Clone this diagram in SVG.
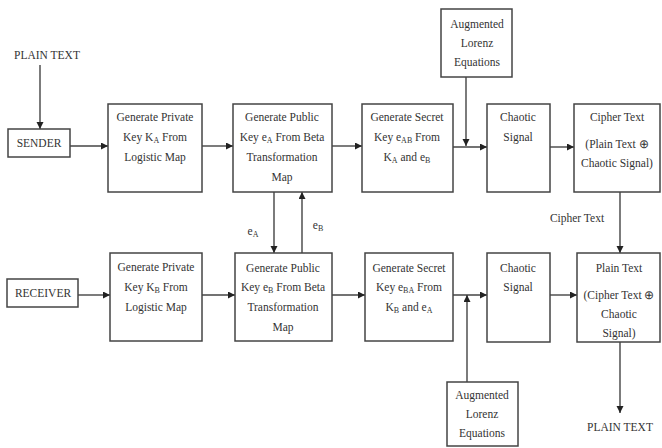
<svg xmlns="http://www.w3.org/2000/svg" width="662" height="448" viewBox="0 0 662 448">
<style>
text{font-family:"Liberation Serif","Times New Roman",serif;font-size:11.5px;fill:#333;text-anchor:middle}
.box{fill:#fff;stroke:#444;stroke-width:1.5}
.c{stroke:#444;stroke-width:1.4;fill:none}
.s{font-size:8px}
</style>
<defs>
<marker id="ar" markerUnits="userSpaceOnUse" markerWidth="8" markerHeight="8" refX="7" refY="3.5" orient="auto">
<path d="M0,0 L7,3.5 L0,7 z" fill="#222"/>
</marker>
</defs>
<rect width="662" height="448" fill="#fff"/>
<g id="connectors">
<line class="c" x1="40" y1="65" x2="40" y2="129" marker-end="url(#ar)"/>
<line class="c" x1="70" y1="146" x2="108" y2="146" marker-end="url(#ar)"/>
<line class="c" x1="202" y1="146" x2="233" y2="146" marker-end="url(#ar)"/>
<line class="c" x1="332" y1="146" x2="362" y2="146" marker-end="url(#ar)"/>
<line class="c" x1="453" y1="147" x2="487" y2="147" marker-end="url(#ar)"/>
<line class="c" x1="466" y1="77" x2="466" y2="146" marker-end="url(#ar)"/>
<line class="c" x1="550" y1="147" x2="574" y2="147" marker-end="url(#ar)"/>
<line class="c" x1="620" y1="192" x2="620" y2="253" marker-end="url(#ar)"/>
<text x="577" y="222">Cipher Text</text>
<line class="c" x1="274" y1="192" x2="274" y2="253" marker-end="url(#ar)"/>
<text x="253" y="235">e<tspan class="s" dy="2">A</tspan></text>
<line class="c" x1="302" y1="253" x2="302" y2="192" marker-end="url(#ar)"/>
<text x="318" y="229">e<tspan class="s" dy="2">B</tspan></text>
<line class="c" x1="78" y1="295" x2="110" y2="295" marker-end="url(#ar)"/>
<line class="c" x1="202" y1="295" x2="235" y2="295" marker-end="url(#ar)"/>
<line class="c" x1="332" y1="295" x2="365" y2="295" marker-end="url(#ar)"/>
<line class="c" x1="453" y1="295" x2="487" y2="295" marker-end="url(#ar)"/>
<line class="c" x1="467" y1="382" x2="467" y2="295" marker-end="url(#ar)"/>
<line class="c" x1="550" y1="295" x2="577" y2="295" marker-end="url(#ar)"/>
<line class="c" x1="620" y1="342" x2="620" y2="413" marker-end="url(#ar)"/>
</g>
<g id="plain-text-in"><text x="47" y="59">PLAIN TEXT</text></g>
<g id="sender"><rect class="box" x="8" y="129" width="62" height="28"/><text x="39" y="147">SENDER</text></g>
<g id="private-a"><rect class="box" x="108" y="104" width="94" height="88"/>
<text x="155" y="121">Generate Private</text>
<text x="155" y="141">Key K<tspan class="s" dy="2">A</tspan><tspan dy="-2"> From</tspan></text>
<text x="155" y="161">Logistic Map</text></g>
<g id="public-a"><rect class="box" x="233" y="104" width="99" height="88"/>
<text x="282" y="121">Generate Public</text>
<text x="282" y="141">Key e<tspan class="s" dy="2">A</tspan><tspan dy="-2"> From Beta</tspan></text>
<text x="282" y="161">Transformation</text>
<text x="282" y="181">Map</text></g>
<g id="secret-a"><rect class="box" x="362" y="104" width="91" height="88"/>
<text x="407" y="121">Generate Secret</text>
<text x="407" y="141">Key e<tspan class="s" dy="2">AB</tspan><tspan dy="-2"> From</tspan></text>
<text x="407" y="161">K<tspan class="s" dy="2">A</tspan><tspan dy="-2"> and e</tspan><tspan class="s" dy="2">B</tspan></text></g>
<g id="lorenz-top"><rect class="box" x="441" y="9" width="71" height="68"/>
<text x="477" y="28">Augmented</text>
<text x="477" y="47">Lorenz</text>
<text x="477" y="66">Equations</text></g>
<g id="chaotic-a"><rect class="box" x="487" y="104" width="63" height="88"/>
<text x="518" y="121">Chaotic</text>
<text x="518" y="141">Signal</text></g>
<g id="cipher"><rect class="box" x="574" y="104" width="86" height="88"/>
<text x="617" y="121">Cipher Text</text>
<text x="617" y="148">(Plain Text ⊕</text>
<text x="617" y="167">Chaotic Signal)</text></g>
<g id="receiver"><rect class="box" x="7" y="279" width="71" height="28"/><text x="43" y="297">RECEIVER</text></g>
<g id="private-b"><rect class="box" x="110" y="253" width="92" height="88"/>
<text x="156" y="271">Generate Private</text>
<text x="156" y="291">Key K<tspan class="s" dy="2">B</tspan><tspan dy="-2"> From</tspan></text>
<text x="156" y="311">Logistic Map</text></g>
<g id="public-b"><rect class="box" x="235" y="253" width="97" height="88"/>
<text x="283" y="272">Generate Public</text>
<text x="283" y="291">Key e<tspan class="s" dy="2">B</tspan><tspan dy="-2"> From Beta</tspan></text>
<text x="283" y="311">Transformation</text>
<text x="283" y="331">Map</text></g>
<g id="secret-b"><rect class="box" x="365" y="253" width="88" height="88"/>
<text x="409" y="272">Generate Secret</text>
<text x="409" y="291">Key e<tspan class="s" dy="2">BA</tspan><tspan dy="-2"> From</tspan></text>
<text x="409" y="311">K<tspan class="s" dy="2">B</tspan><tspan dy="-2"> and e</tspan><tspan class="s" dy="2">A</tspan></text></g>
<g id="chaotic-b"><rect class="box" x="487" y="253" width="63" height="89"/>
<text x="518" y="272">Chaotic</text>
<text x="518" y="291">Signal</text></g>
<g id="plain-box"><rect class="box" x="577" y="253" width="83" height="89"/>
<text x="619" y="272">Plain Text</text>
<text x="619" y="299">(Cipher Text ⊕</text>
<text x="619" y="318">Chaotic</text>
<text x="619" y="337">Signal)</text></g>
<g id="lorenz-bottom"><rect class="box" x="447" y="382" width="71" height="64"/>
<text x="482" y="399">Augmented</text>
<text x="482" y="418">Lorenz</text>
<text x="482" y="437">Equations</text></g>
<g id="plain-text-out"><text x="620" y="431">PLAIN TEXT</text></g>
</svg>
